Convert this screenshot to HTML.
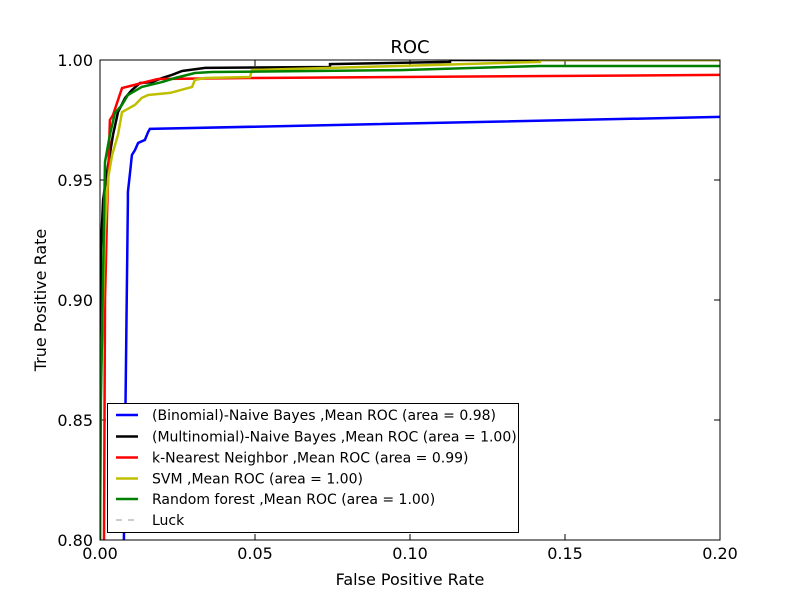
<!DOCTYPE html>
<html><head><meta charset="utf-8"><style>
html,body{margin:0;padding:0;background:#fff;overflow:hidden;width:800px;height:600px;}
svg{display:block;}
svg text{font-family:"DejaVu Sans","Liberation Sans",sans-serif;}
</style></head><body>
<svg id="chart" width="800" height="600" viewBox="0 0 800 600" xmlns="http://www.w3.org/2000/svg">
<rect width="800" height="600" fill="#fff"/>
<defs><clipPath id="clip"><rect x="100" y="60" width="620" height="480"/></clipPath></defs>
<g id="ticks"></g>
<g id="series" clip-path="url(#clip)"></g>
<rect x="100" y="60" width="620" height="480" fill="none" stroke="#000" stroke-width="1"/>
<text x="410" y="53" font-size="18" text-anchor="middle">ROC</text>
<text x="410" y="585" font-size="16" text-anchor="middle">False Positive Rate</text>
<text x="46" y="300" font-size="16" text-anchor="middle" transform="rotate(-90 46 300)">True Positive Rate</text>
<g id="legend"></g>
</svg>
<script>
const xTicks=[0,0.05,0.10,0.15,0.20];
const xTickLabels=["0.00","0.05","0.10","0.15","0.20"];
const yTicks=[0.80,0.85,0.90,0.95,1.00];
const yTickLabels=["0.80","0.85","0.90","0.95","1.00"];
const seriesNames=["(Binomial)-Naive Bayes ,Mean ROC (area = 0.98)","(Multinomial)-Naive Bayes ,Mean ROC (area = 1.00)","k-Nearest Neighbor ,Mean ROC (area = 0.99)","SVM ,Mean ROC (area = 1.00)","Random forest ,Mean ROC (area = 1.00)","Luck"];
const blueFpr=[0.0077,0.0090,0.0090,0.0097,0.0103,0.0113,0.0123,0.0145,0.0155,0.0161,0.2];
const blueTpr=[0.8,0.9417,0.945,0.9533,0.9604,0.9625,0.9654,0.9667,0.97,0.9713,0.9763];
const blackFpr=[0,0.0003,0.001,0.0026,0.0042,0.0058,0.0081,0.0103,0.0129,0.0168,0.02,0.0232,0.0265,0.0339,0.0742,0.0742,0.1129,0.1129,0.2];
const blackTpr=[0.8,0.9208,0.9417,0.9563,0.9688,0.9783,0.9842,0.9875,0.9904,0.9908,0.9925,0.9938,0.9954,0.9967,0.9971,0.9983,0.9992,1.0,1.0];
const redFpr=[0.0013,0.0016,0.0023,0.0032,0.0042,0.0071,0.0135,0.0187,0.0484,0.2];
const redTpr=[0.8,0.9,0.9367,0.975,0.9771,0.9883,0.9904,0.9921,0.9925,0.9938];
const yellowFpr=[0,0.0003,0.001,0.0016,0.0026,0.0039,0.0058,0.0071,0.0113,0.0135,0.0155,0.0226,0.0297,0.0306,0.0339,0.0484,0.049,0.0742,0.1419,0.1419,0.2];
const yellowTpr=[0.8,0.8667,0.9,0.9292,0.9508,0.9604,0.9688,0.9783,0.9813,0.9842,0.9854,0.9863,0.9888,0.9917,0.9925,0.9929,0.9958,0.9967,0.9992,1.0,1.0];
const greenFpr=[0,0.0003,0.0013,0.0016,0.0032,0.0048,0.0071,0.009,0.0135,0.02,0.0242,0.0306,0.0361,0.0968,0.1419,0.2];
const greenTpr=[0.8,0.8583,0.9333,0.9575,0.9688,0.9779,0.9813,0.9854,0.9888,0.9908,0.9925,0.9946,0.995,0.9958,0.9975,0.9975];
const luckFpr=[0,1];
const luckTpr=[0,1];

const NS="http://www.w3.org/2000/svg";
const X0=100,X1=720,Y0=540,Y1=60;
const xs=v=>X0+(v-0)/(0.2-0)*(X1-X0);
const ys=v=>Y0-(v-0.8)/(1.0-0.8)*(Y0-Y1);
function mk(tag,attrs,parent){const e=document.createElementNS(NS,tag);for(const k in attrs)e.setAttribute(k,attrs[k]);parent.appendChild(e);return e;}
const tg=document.getElementById('ticks');
xTicks.forEach((v,i)=>{
  const x=xs(v);
  const t1=mk('line',{x1:x,x2:x,y1:540,y2:534,stroke:'#000'},tg);
  
  
  mk('line',{x1:x,x2:x,y1:60,y2:66,stroke:'#000'},tg);
  const tx=mk('text',{x:x,y:559,'font-size':16,'text-anchor':'middle'},tg);
  tx.textContent=xTickLabels[i];
  
  
});
yTicks.forEach((v,i)=>{
  const y=ys(v);
  const t1=mk('line',{x1:100,x2:106,y1:y,y2:y,stroke:'#000'},tg);
  
  
  mk('line',{x1:714,x2:720,y1:y,y2:y,stroke:'#000'},tg);
  const tx=mk('text',{x:93,y:y+6,'font-size':16,'text-anchor':'end'},tg);
  tx.textContent=yTickLabels[i];
  
  
});
const sg=document.getElementById('series');
const series=[[blueFpr,blueTpr,'#0000ff'],[blackFpr,blackTpr,'#000000'],[redFpr,redTpr,'#ff0000'],[yellowFpr,yellowTpr,'#bfbf00'],[greenFpr,greenTpr,'#008000']];
const names=['binomial-nb-curve','multinomial-nb-curve','knn-curve','svm-curve','random-forest-curve'];
series.forEach((s,i)=>{
  const pts=s[0].map((f,j)=>xs(f).toFixed(1)+','+ys(s[1][j]).toFixed(1)).join(' ');
  const p=mk('polyline',{points:pts,fill:'none',stroke:s[2],'stroke-width':2.5,'stroke-linejoin':'miter'},sg);
  
  
});
const lp=mk('polyline',{points:luckFpr.map((f,j)=>xs(f)+','+ys(luckTpr[j])).join(' '),fill:'none',stroke:'#999','stroke-dasharray':'6,6'},sg);



const lg=document.getElementById('legend');
mk('rect',{x:107.5,y:403.5,width:411,height:129,fill:'#fff',stroke:'#000'},lg);
const cols=['#0000ff','#000000','#ff0000','#bfbf00','#008000','#999'];
const ly=[415,436.5,457.5,478.5,499,520];
seriesNames.forEach((n,i)=>{
  const g=mk('g',{},lg);
  
  
  if(i<5) mk('line',{x1:116,x2:138,y1:ly[i],y2:ly[i],stroke:cols[i],'stroke-width':2.5},g);
  else mk('line',{x1:116,x2:138,y1:ly[i],y2:ly[i],stroke:cols[i],'stroke-width':1,'stroke-dasharray':'6,6'},g);
  const t=mk('text',{x:152,y:ly[i]+5,'font-size':14},g);
  t.textContent=n;
});
</script>
</body></html>
